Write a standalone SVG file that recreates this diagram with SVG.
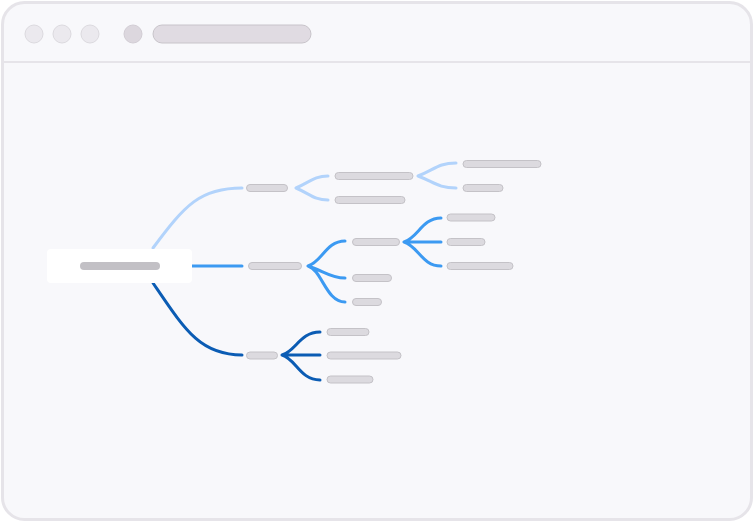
<svg xmlns="http://www.w3.org/2000/svg" width="754" height="522" viewBox="0 0 754 522">
<style>
.bar{fill:#dcdadf;stroke:#c4c2c7;stroke-width:1}
.dot{fill:#ebe9ee;stroke:#dcdadf;stroke-width:1}
.c{fill:none;stroke-width:3;stroke-linecap:round}
.l{stroke:#b2d3fb}.m{stroke:#3c9af2}.d{stroke:#0b5cb4}
</style>
<rect width="754" height="522" fill="#ffffff"/>
<g id="window">
<rect x="2.5" y="2.5" width="749" height="517" rx="22" fill="#f8f8fb" stroke="#e6e4e9" stroke-width="3"/>
<line x1="4" y1="62" x2="750" y2="62" stroke="#e6e4e9" stroke-width="2"/>
<circle class="dot" cx="34" cy="34" r="9"/>
<circle class="dot" cx="62" cy="34" r="9"/>
<circle class="dot" cx="90" cy="34" r="9"/>
<circle cx="133" cy="34" r="9" fill="#dcd7de" stroke="#d2cdd4"/>
<rect x="153" y="25" width="158" height="18" rx="9" fill="#e0dbe2" stroke="#c8c4ca"/>
</g>
<g id="connectors">
<path class="c l" d="M153,248 C185,205 200,188 242,188"/>
<path class="c m" d="M192,266 L242,266"/>
<path class="c d" d="M153,283 C185,330 200,355 242,355"/>
<path class="c l" d="M296,188 C310,182 314,176 328,176 M296,188 C310,194 314,200 328,200"/>
<path class="c l" d="M418,176 C434,170 438,163 456,163 M418,176 C434,182 438,188 456,188"/>
<path class="c m" d="M308,266 C322,262 326,241 345,241 M308,266 C322,270 330,278 345,278 M308,266 C322,270 326,302 345,302"/>
<path class="c m" d="M404,242 C418,238 422,218 441,218 M404,242 L441,242 M404,242 C418,246 422,266 441,266"/>
<path class="c d" d="M282,355 C296,351 300,332 320,332 M282,355 L320,355 M282,355 C296,359 300,380 320,380"/>
</g>
<g id="root">
<rect x="47" y="249" width="145" height="34" rx="4" fill="#ffffff"/>
<rect x="80" y="262" width="80" height="8" rx="4" fill="#c2c0c5"/>
</g>
<g id="n1"><rect class="bar" x="246.5" y="184.5" width="41" height="7" rx="3.5"/></g>
<g id="n1a"><rect class="bar" x="335" y="172.5" width="78" height="7" rx="3.5"/></g>
<g id="n1b"><rect class="bar" x="335" y="196.5" width="70" height="7" rx="3.5"/></g>
<g id="n1a1"><rect class="bar" x="463" y="160.5" width="78" height="7" rx="3.5"/></g>
<g id="n1a2"><rect class="bar" x="463" y="184.5" width="40" height="7" rx="3.5"/></g>
<g id="n2"><rect class="bar" x="248.5" y="262.5" width="53" height="7" rx="3.5"/></g>
<g id="n2a"><rect class="bar" x="352.5" y="238.5" width="47" height="7" rx="3.5"/></g>
<g id="n2b"><rect class="bar" x="352.5" y="274.5" width="39" height="7" rx="3.5"/></g>
<g id="n2c"><rect class="bar" x="352.5" y="298.5" width="29" height="7" rx="3.5"/></g>
<g id="n2a1"><rect class="bar" x="447" y="214" width="48" height="7" rx="3.5"/></g>
<g id="n2a2"><rect class="bar" x="447" y="238.5" width="38" height="7" rx="3.5"/></g>
<g id="n2a3"><rect class="bar" x="447" y="262.5" width="66" height="7" rx="3.5"/></g>
<g id="n3"><rect class="bar" x="246.5" y="352" width="31" height="7" rx="3.5"/></g>
<g id="n3a"><rect class="bar" x="327" y="328.5" width="42" height="7" rx="3.5"/></g>
<g id="n3b"><rect class="bar" x="327" y="352" width="74" height="7" rx="3.5"/></g>
<g id="n3c"><rect class="bar" x="327" y="376" width="46" height="7" rx="3.5"/></g>
</svg>
